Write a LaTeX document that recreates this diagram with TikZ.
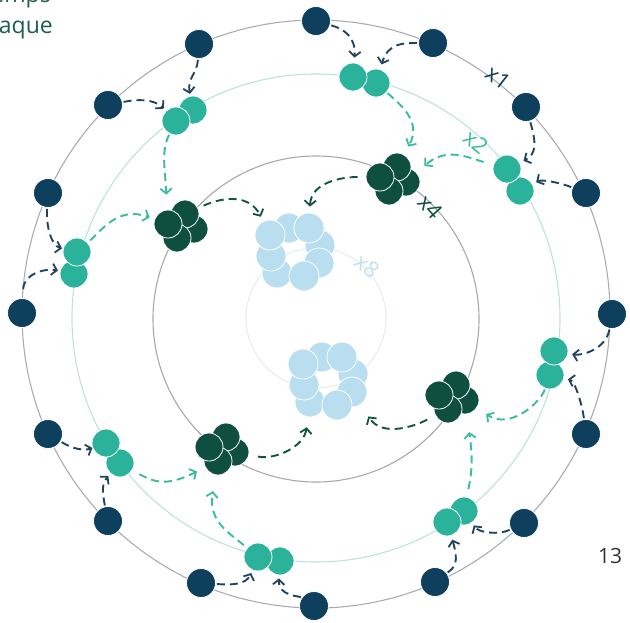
\documentclass[tikz,border=0pt]{standalone}
\usepackage{fontspec}
\setmainfont{Open Sans}
\usetikzlibrary{arrows.meta}
\definecolor{navy}{HTML}{0E3F5C}
\definecolor{teal}{HTML}{2BB29A}
\definecolor{dgreen}{HTML}{0E4F40}
\definecolor{lblue}{HTML}{B8DEF0}
\definecolor{navyarrc}{HTML}{23435C}
\definecolor{tealarrc}{HTML}{3CBB9F}
\definecolor{greenarrc}{HTML}{145244}
\definecolor{ringA}{HTML}{A6ADB5}
\definecolor{ringB}{HTML}{BDE3D9}
\definecolor{ringC}{HTML}{A4AAA9}
\definecolor{ringD}{HTML}{E5EEEE}
\definecolor{titletext}{HTML}{1F5C52}
\definecolor{lblx}{HTML}{C0E1F1}
\begin{document}
\begin{tikzpicture}[x=1pt,y=-1pt,
  dotbase/.style={circle,draw=white,line width=0.8pt,inner sep=0pt},
  navydot/.style={dotbase,fill=navy,minimum size=29pt},
  tealdot/.style={dotbase,fill=teal,minimum size=28pt},
  greendot/.style={dotbase,fill=dgreen,minimum size=28pt},
  bluedot/.style={dotbase,fill=lblue,minimum size=30pt},
  arrbase/.style={line width=1.9pt,dash pattern=on 8pt off 5pt,
    -{Straight Barb[length=5pt,width=11.5pt,line width=1.8pt]},
    shorten <=1pt, shorten >=3pt},
  navyarr/.style={arrbase,draw=navyarrc},
  tealarr/.style={arrbase,draw=tealarrc},
  greenarr/.style={arrbase,draw=greenarrc},
  lab/.style={font=\fontsize{22}{22}\selectfont,inner sep=0pt}]
\useasboundingbox (0,0) rectangle (630,622);
% rings
\draw[ringA,line width=1.1pt] (316,314) circle[radius=294];
\draw[ringB,line width=1.1pt] (316,318) circle[radius=244];
\draw[ringC,line width=1.1pt] (316,319) circle[radius=163];
\draw[ringD,line width=1.1pt] (316,318) circle[radius=70];
% texts
\node[anchor=base east,inner sep=0pt,text=titletext,font=\fontsize{23}{23}\selectfont] (tA) at (51,2) {temps};
\node[anchor=base east,inner sep=0pt,text=titletext,font=\fontsize{23}{23}\selectfont] (tB) at (53,33) {chaque};
\node[anchor=base west,inner sep=0pt,text=black!80,font=\fontsize{21}{21}\selectfont] (pg) at (598,563) {13};
\node[lab,text=navy,rotate=-38] (l1) at (498,78) {x1};
\node[lab,text=tealarrc,rotate=-40] (l2) at (476,142) {x2};
\node[lab,text=dgreen,rotate=-48] (l4) at (430,207) {x4};
\node[lab,text=lblx,rotate=-40] (l8) at (367,266) {x8};
% navy dots
\node[navydot] (n1) at (316,21) {};
\node[navydot] (n2) at (433,43) {};
\node[navydot] (n3) at (526,107) {};
\node[navydot] (n4) at (586,193) {};
\node[navydot] (n5) at (612,314) {};
\node[navydot] (n6) at (586,434) {};
\node[navydot] (n7) at (524,523) {};
\node[navydot] (n8) at (435,582) {};
\node[navydot] (n9) at (314,606) {};
\node[navydot] (n10) at (201,583) {};
\node[navydot] (n11) at (108,521) {};
\node[navydot] (n12) at (48,434) {};
\node[navydot] (n13) at (22,313) {};
\node[navydot] (n14) at (48,193) {};
\node[navydot] (n15) at (108,105) {};
\node[navydot] (n16) at (199,44) {};
% teal pairs
\node[tealdot] (t1b) at (376,83) {};
\node[tealdot] (t1a) at (353,77) {};
\node[tealdot] (t2b) at (520,191) {};
\node[tealdot] (t2a) at (507,169) {};
\node[tealdot] (t3b) at (550,375) {};
\node[tealdot] (t3a) at (554,351) {};
\node[tealdot] (t4b) at (464,511) {};
\node[tealdot] (t4a) at (447,522) {};
\node[tealdot] (t5b) at (280,561) {};
\node[tealdot] (t5a) at (258,557) {};
\node[tealdot] (t6b) at (120,463) {};
\node[tealdot] (t6a) at (106,443) {};
\node[tealdot] (t7b) at (74,274) {};
\node[tealdot] (t7a) at (77,252) {};
\node[tealdot] (t8b) at (193,110) {};
\node[tealdot] (t8a) at (176,121) {};
% dark green clusters
\node[greendot] (g1c) at (406,182) {};
\node[greendot] (g1b) at (397,167) {};
\node[greendot] (g1d) at (389,191) {};
\node[greendot] (g1a) at (380,177) {};
\node[greendot] (g2c) at (465,400) {};
\node[greendot] (g2b) at (456,385) {};
\node[greendot] (g2d) at (448,409) {};
\node[greendot] (g2a) at (439,395) {};
\node[greendot] (g3c) at (235,452) {};
\node[greendot] (g3b) at (226,437) {};
\node[greendot] (g3d) at (218,461) {};
\node[greendot] (g3a) at (209,447) {};
\node[greendot] (g4c) at (194,229) {};
\node[greendot] (g4b) at (185,214) {};
\node[greendot] (g4d) at (177,238) {};
\node[greendot] (g4a) at (168,224) {};
% light blue rings
\node[bluedot] (b1b) at (289,228) {};
\node[bluedot] (b1d) at (320,245) {};
\node[bluedot] (b1g) at (277,273) {};
\node[bluedot] (b1e) at (319,263) {};
\node[bluedot] (b1h) at (271,256) {};
\node[bluedot] (b1a) at (270,235) {};
\node[bluedot] (b1c) at (309,228) {};
\node[bluedot] (b1f) at (304,276) {};
\node[bluedot] (b2b) at (322,357) {};
\node[bluedot] (b2d) at (353,374) {};
\node[bluedot] (b2g) at (310,402) {};
\node[bluedot] (b2e) at (352,392) {};
\node[bluedot] (b2h) at (304,385) {};
\node[bluedot] (b2a) at (303,364) {};
\node[bluedot] (b2c) at (342,357) {};
\node[bluedot] (b2f) at (337,405) {};
% navy arrows
\draw[navyarr,shorten >=5pt] (n1) .. controls +(28,8) and +(3,-40) .. (t1a);
\draw[navyarr,shorten >=5pt] (n2) .. controls +(-30,0) and +(12,-40) .. (t1b);
\draw[navyarr,shorten >=4pt] (n3) .. controls +(10,35) and +(30,-15) .. (t2a);
\draw[navyarr,shorten >=4pt] (n4) .. controls +(-25,-10) and +(22,-12) .. (t2b);
\draw[navyarr,shorten >=4pt] (n5) .. controls +(-6,35) and +(28,5) .. (t3a);
\draw[navyarr,shorten >=4pt] (n6) .. controls +(-4,-30) and +(25,6) .. (t3b);
\draw[navyarr] (n7) .. controls +(-25,12) and +(15,22) .. (t4b);
\draw[navyarr,shorten >=4pt] (n8) .. controls +(20,-15) and +(12,40) .. (t4a);
\draw[navyarr] (n9) .. controls +(-15,-10) and +(-2,35) .. (t5b);
\draw[navyarr] (n10) .. controls +(30,2) and +(-12,28) .. (t5a);
\draw[navyarr] (n11) .. controls +(-6,-30) and +(-18,20) .. (t6b);
\draw[navyarr,shorten >=0pt] (n12) .. controls +(25,15) and +(-22,8) .. (t6a);
\draw[navyarr,shorten >=1pt] (n14) .. controls +(-2,35) and +(-25,-6) .. (t7a);
\draw[navyarr,shorten <=9pt,shorten >=2pt] (n13) .. controls +(2,-40) and +(-28,-6) .. (t7b);
\draw[navyarr] (n15) .. controls +(30,-6) and +(-22,-22) .. (t8a);
\draw[navyarr,shorten >=2pt] (n16) .. controls +(-2,30) and +(-6,-32) .. (t8b);
% teal arrows
\draw[tealarr,shorten >=9pt] (t1b) .. controls +(25,22) and +(25,-45) .. (g1b);
\draw[tealarr,shorten <=10pt,shorten >=10pt] (t2a) .. controls +(-40,-12) and +(40,-35) .. (g1c);
\draw[tealarr,shorten >=11pt] (t3b) .. controls +(-10,28) and +(45,30) .. (g2c);
\draw[tealarr,shorten <=8pt,shorten >=18pt] (t4b) .. controls +(8,-40) and +(8,60) .. (g2c);
\draw[tealarr,shorten <=4pt,shorten >=16pt] (t5a) .. controls +(-30,-25) and +(-10,60) .. (g3d);
\draw[tealarr,shorten <=8pt,shorten >=9pt] (t6b) .. controls +(35,20) and +(-50,25) .. (g3d);
\draw[tealarr,shorten <=3pt,shorten >=5pt] (t7a) .. controls +(25,-22) and +(-50,-18) .. (g4a);
\draw[tealarr,shorten >=15pt] (t8a) .. controls +(-15,30) and +(-3,-55) .. (g4a);
% green arrows
\draw[greenarr,shorten <=6pt,shorten >=5pt] (g4b) .. controls +(40,-18) and +(-20,-40) .. (b1a);
\draw[greenarr,shorten <=8pt,shorten >=6pt] (g1a) .. controls +(-40,0) and +(2,-45) .. (b1c);
\draw[greenarr,shorten <=9pt,shorten >=10pt] (g3c) .. controls +(40,8) and +(-6,45) .. (b2g);
\draw[greenarr,shorten <=9pt,shorten >=14pt] (g2d) .. controls +(-35,18) and +(30,45) .. (b2e);
\end{tikzpicture}
\end{document}
